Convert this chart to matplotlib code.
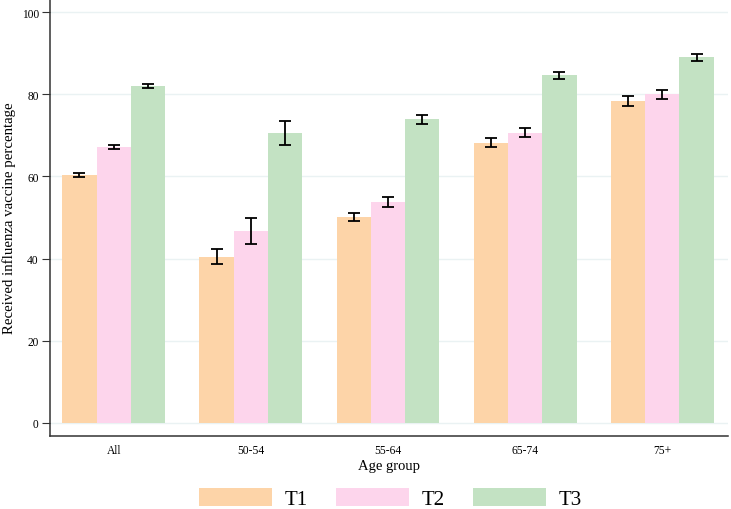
import numpy as np
import matplotlib.pyplot as plt

groups = ['All', '50-54', '55-64', '65-74', '75+']
series = ['T1', 'T2', 'T3']
t1 = [60.3, 40.5, 50.2, 68.2, 78.4]
t2 = [67.1, 46.7, 53.8, 70.6, 80.0]
t3 = [82.0, 70.5, 73.9, 84.6, 89.0]
t1_err = [0.5, 1.8, 1.0, 1.1, 1.2]
t2_err = [0.5, 3.1, 1.2, 1.1, 1.1]
t3_err = [0.4, 2.9, 1.1, 0.8, 0.8]
colors = ['#fdd4a8', '#fdd5ec', '#c3e2c3']

plt.rcParams['font.family'] = ['Liberation Serif', 'DejaVu Serif']

fig = plt.figure(figsize=(7.31, 5.10), dpi=100)
ax = fig.add_axes([0.068, 0.143, 0.928, 0.857])

x = np.arange(len(groups))
w = 0.25
vals = [t1, t2, t3]
errs = [t1_err, t2_err, t3_err]
for i, (v, e, c, lab) in enumerate(zip(vals, errs, colors, series)):
    ax.bar(x + (i - 1) * w, v, width=w, color=c, label=lab, zorder=2)
    ax.errorbar(x + (i - 1) * w, v, yerr=e, fmt='none', ecolor='black',
                elinewidth=1.3, capsize=4, capthick=1.3, zorder=3)

ax.set_xlim(-0.467, 4.48)
ax.set_ylim(-3.2, 103.2)
ax.set_yticks([0, 20, 40, 60, 80, 100])
ax.set_xticks(x)
ax.set_xticklabels(groups)
ax.yaxis.grid(True, color='#eaf2f3', linewidth=1, zorder=0)
ax.set_axisbelow(True)
for s in ['top', 'right']:
    ax.spines[s].set_visible(False)
for s in ['left', 'bottom']:
    ax.spines[s].set_color('#333333')
    ax.spines[s].set_linewidth(1.1)
ax.tick_params(axis='y', labelsize=8.3, length=5.8, pad=2, color='#333333')
ax.tick_params(axis='x', labelsize=8.3, length=0, pad=6)
ax.set_ylabel('Received influenza vaccine percentage', fontsize=10.7, labelpad=4)
ax.set_xlabel('Age group', fontsize=10.5, labelpad=2)

fig.legend(loc='lower center', bbox_to_anchor=(0.534, 0.0), ncol=3, frameon=False,
           fontsize=15, handlelength=3.5, handleheight=0.96, columnspacing=1.39,
           handletextpad=0.58, borderpad=0.0, borderaxespad=0.0)

fig.savefig('out.png', dpi=100)
